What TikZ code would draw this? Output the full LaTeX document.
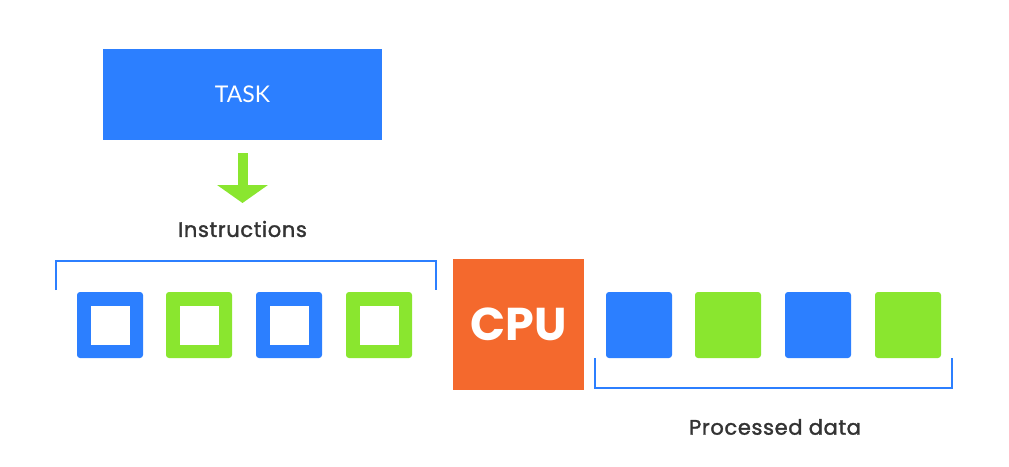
\documentclass[tikz,border=0pt]{standalone}
\usepackage{fontspec}
\setmainfont{Poppins}
\newfontfamily\latofont{Lato}
\newfontfamily\captionfont[FakeBold=1.6,LetterSpace=3]{Poppins}
\usetikzlibrary{arrows.meta}
\definecolor{taskblue}{HTML}{2C7FFF}
\definecolor{datagreen}{HTML}{8AE62F}
\definecolor{cpuorange}{HTML}{F4692D}
\definecolor{labelgrey}{HTML}{333333}
\tikzset{instr/.style={minimum size=66pt,inner sep=0pt,rounded corners=3pt,fill=#1,
                       path picture={\fill[white,sharp corners] (path picture bounding box.center) +(-19.5,-19.5) rectangle +(19.5,19.5);}},
         datum/.style={minimum size=66pt,inner sep=0pt,rounded corners=3pt,fill=#1},
         caption/.style={text=labelgrey,font=\captionfont\fontsize{21}{24}\selectfont},
         bracket/.style={draw=taskblue,line width=1.6pt},
        }

\begin{document}
\begin{tikzpicture}[x=1pt,y=-1pt]
        \useasboundingbox (0,0) rectangle (1009,466);
        \node[fill=taskblue,minimum width=279pt,minimum height=91pt,text=white,
              font=\latofont\fontsize{23}{26}\selectfont](task)at(242.5,94.5){TASK};
        \node[caption](instructions)at(242.5,229){Instructions};
        \coordinate(arrtop)at(242.5,153);
        \coordinate(arrtip)at(242.5,203);
        \draw[datagreen,line width=10pt,-{Triangle[length=18pt,width=50pt]}](arrtop)--(arrtip);

        \node[instr=taskblue](in1)at(110,325){};
        \node[instr=datagreen](in2)at(199,325){};
        \node[instr=taskblue](in3)at(289,325){};
        \node[instr=datagreen](in4)at(379,325){};
        \draw[bracket](56,290)--(56,261)--(436,261)--(436,290);

        \node[fill=cpuorange,minimum width=131pt,minimum height=131pt,text=white,
              font=\bfseries\fontsize{46}{50}\selectfont](cpu)at(518.5,324.5){CPU};

        \node[datum=taskblue](out1)at(639,325){};
        \node[datum=datagreen](out2)at(728,325){};
        \node[datum=taskblue](out3)at(818,325){};
        \node[datum=datagreen](out4)at(908,325){};
        \draw[bracket](595,358)--(595,388)--(952,388)--(952,358);
        \node[caption](processed)at(775,427){Processed data};
    \end{tikzpicture}
\end{document}
